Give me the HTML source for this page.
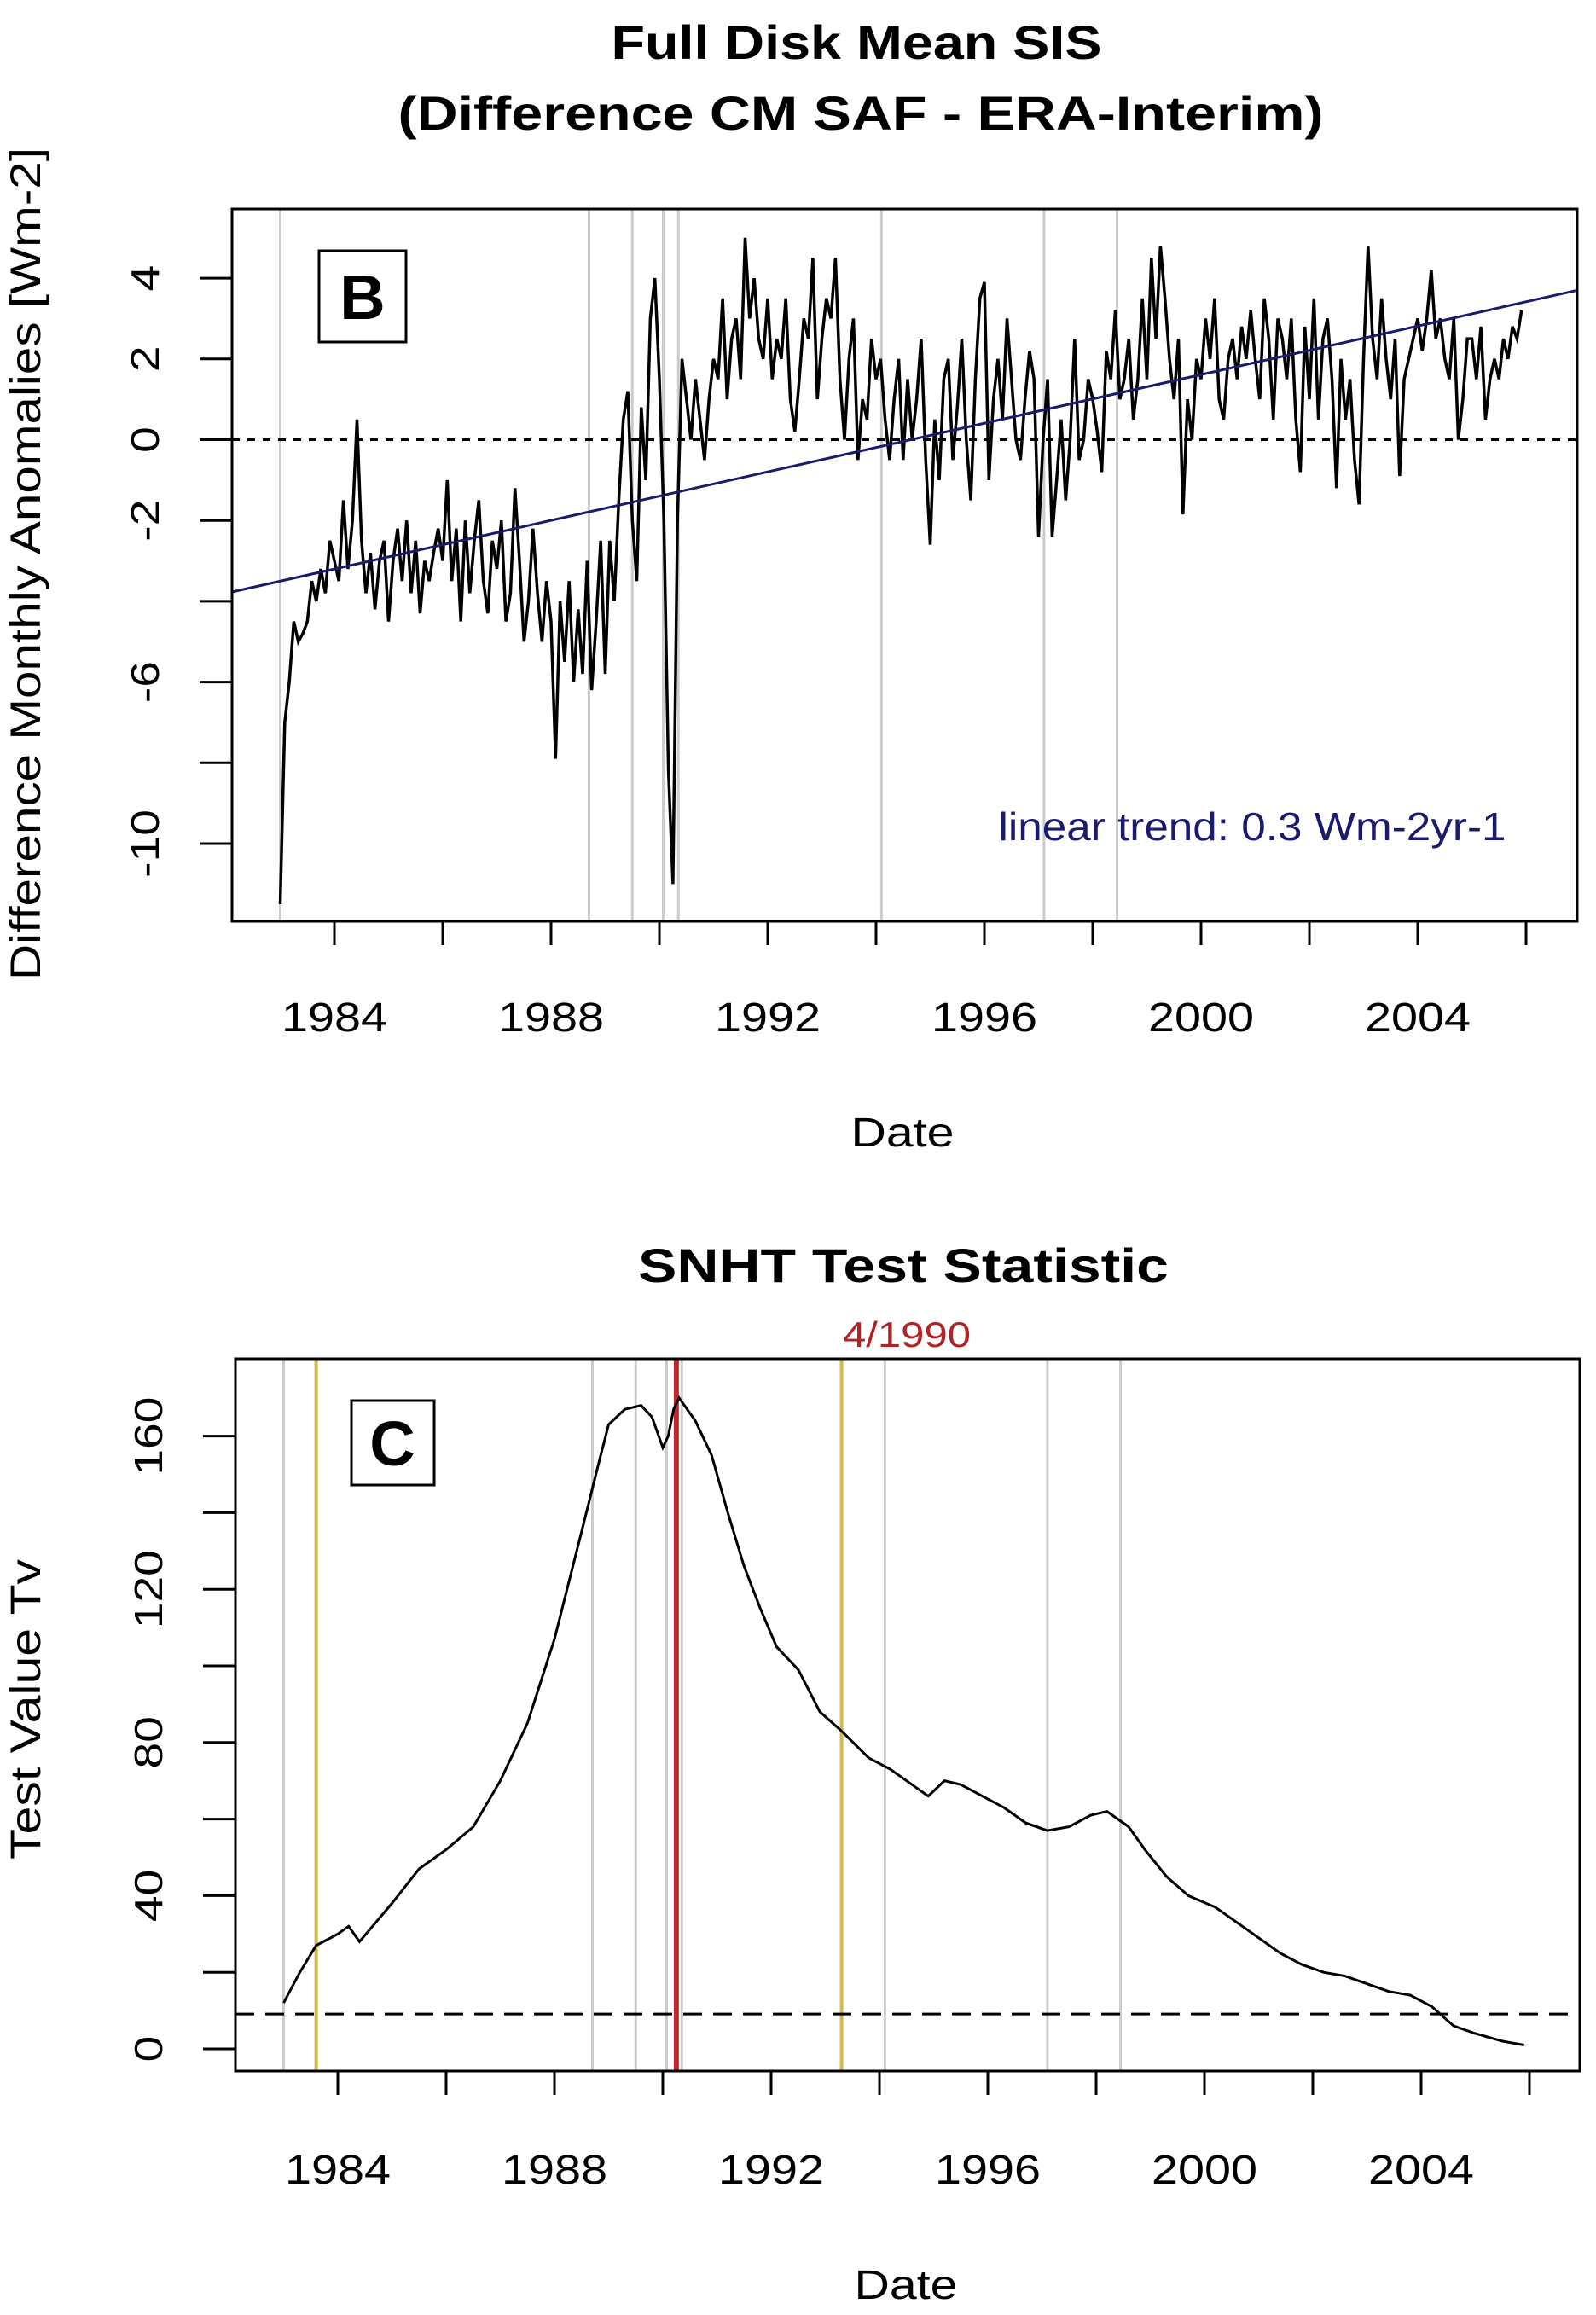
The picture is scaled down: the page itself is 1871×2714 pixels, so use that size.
<!DOCTYPE html>
<html><head><meta charset="utf-8">
<style>
html,body{margin:0;padding:0;background:#fff;}
svg{display:block;font-family:"Liberation Sans",Arial,sans-serif;}
</style></head>
<body>
<svg id="chart" width="1871" height="2714" viewBox="0 0 1871 2714" xmlns="http://www.w3.org/2000/svg">
<rect width="1871" height="2714" fill="#fff"/>
<text x="1004" y="69" font-size="56" font-weight="bold" text-anchor="middle" textLength="575" lengthAdjust="spacingAndGlyphs">Full Disk Mean SIS</text>
<text x="1009" y="152" font-size="56" font-weight="bold" text-anchor="middle" textLength="1085" lengthAdjust="spacingAndGlyphs">(Difference CM SAF - ERA-Interim)</text>
<text x="1058" y="1344" font-size="48" text-anchor="middle" textLength="121" lengthAdjust="spacingAndGlyphs">Date</text>
<text transform="translate(47,661) rotate(-90)" font-size="50" text-anchor="middle" textLength="976" lengthAdjust="spacingAndGlyphs">Difference Monthly Anomalies [Wm-2]</text>
<text x="1059" y="1503" font-size="56" font-weight="bold" text-anchor="middle" textLength="622" lengthAdjust="spacingAndGlyphs">SNHT Test Statistic</text>
<text x="1063" y="1579" font-size="42" fill="#b22222" text-anchor="middle" textLength="150" lengthAdjust="spacingAndGlyphs">4/1990</text>
<text x="1062" y="2695" font-size="48" text-anchor="middle" textLength="121" lengthAdjust="spacingAndGlyphs">Date</text>
<text transform="translate(47,2004) rotate(-90)" font-size="50" text-anchor="middle" textLength="352" lengthAdjust="spacingAndGlyphs">Test Value Tv</text>
<g id="gb"></g>
<g id="gc"></g>
</svg>
<script>
// Panel B data: monthly anomalies 1983-2005
const bStartYear = 1983;
const bValues = [
-11.5,-7,-6,-4.5,-5,-4.8,-4.5,-3.5,-4,-3.2,-3.8,-2.5,
-3,-3.5,-1.5,-3.2,-2,0.5,-2.5,-3.8,-2.8,-4.2,-3,-2.5,
-4.5,-3,-2.2,-3.5,-2,-3.8,-2.5,-4.3,-3,-3.5,-2.8,-2.2,
-3,-1,-3.5,-2.2,-4.5,-2,-3.8,-2.5,-1.5,-3.5,-4.3,-2.5,
-3.2,-2,-4.5,-3.8,-1.2,-3,-5,-4,-2.2,-3.8,-5,-3.5,
-4.5,-7.9,-4,-5.5,-3.5,-6,-4.2,-5.8,-3,-6.2,-4.5,-2.5,
-5.8,-2.5,-4,-1.5,0.5,1.2,-2,-3.5,0.8,-1,3,4,
1.5,-2,-8.2,-11,-2,2,1,0,1.5,0.5,-0.5,1,
2,1.5,3.5,1,2.5,3,1.5,5,3,4,2.5,2,
3.5,1.5,2.5,2,3.5,1,0.2,1.5,3,2.5,4.5,1,
2.5,3.5,3,4.5,1.5,0,2,3,-0.5,1,0.5,2.5,
1.5,2,0.5,-0.5,1,2,-0.5,1.5,0,1,2.5,-0.5,
-2.6,0.5,-1,1.5,2,-0.5,0.8,2.5,0,-1.5,1.5,3.5,
3.9,-1,1,2,0.5,3,1.5,0,-0.5,1,2.2,1.5,
-2.4,0,1.5,-2.4,-1,0.5,-1.5,0,2.5,-0.5,0,1.5,
1,0.2,-0.8,2.2,1.5,3.2,1,1.5,2.5,0.5,1.5,3.5,
1.5,4.5,2.5,4.8,3.5,2,1,2.5,-1.85,1,0,2,
1.5,3,2,3.5,1,0.5,2,2.5,1.5,2.8,2,3.2,
2,1,3.5,2.5,0.5,3,2.5,1.5,3,0.5,-0.8,2.8,
1,3.5,0.5,2.5,3,1.5,-1.2,2,0.5,1.5,-0.5,-1.6,
2,4.8,2.5,1.5,3.5,2,1,2.5,-0.9,1.5,2,2.5,
3,2.2,3,4.2,2.5,3,2,1.5,3,0,1,2.5,
2.5,1.5,2.8,0.5,1.5,2,1.5,2.5,2,2.8,2.5,3.2
];
const bTrendStart = -3.77, bTrendEnd = 3.7;
const bYTicks = [-10,-8,-6,-4,-2,0,2,4];
const bYLabels = ["-10","","-6","","-2","0","2","4"];
const xTicks = [1984,1986,1988,1990,1992,1994,1996,1998,2000,2002,2004,2006];
const xLabels = ["1984","","1988","","1992","","1996","","2000","","2004",""];
const greyLines = [1983.0,1988.7,1989.5,1990.07,1990.35,1994.1,1997.1,1998.45];
// Panel C data
const cYears = [1983.0,1983.3,1983.6,1984.0,1984.2,1984.4,1985.0,1985.5,1986.0,1986.5,1987.0,1987.5,1988.0,1988.5,1988.8,1989.0,1989.3,1989.6,1989.8,1990.0,1990.1,1990.2,1990.3,1990.6,1990.9,1991.2,1991.5,1991.8,1992.1,1992.5,1992.9,1993.3,1993.8,1994.2,1994.6,1994.9,1995.2,1995.5,1995.9,1996.3,1996.7,1997.1,1997.5,1997.9,1998.2,1998.6,1998.9,1999.3,1999.7,2000.2,2000.6,2001.0,2001.4,2001.8,2002.2,2002.6,2003.0,2003.4,2003.8,2004.2,2004.6,2005.0,2005.5,2005.9];
const cValues = [12,20,27,30,32,28,38,47,52,58,70,85,107,135,152,163,167,168,165,157,160,167,170,164,155,140,126,115,105,99,88,83,76,73,69,66,70,69,66,63,59,57,58,61,62,58,52,45,40,37,33,29,25,22,20,19,17,15,14,11,6,4,2,1];
const cYTicks = [0,20,40,60,80,100,120,140,160];
const cYLabels = ["0","","40","","80","","120","","160"];
const cThreshold = 9.1;
const cYellow = [1983.6,1993.3];
const cRed = 1990.25;

const NS="http://www.w3.org/2000/svg";
function mk(parent,tag,attrs){const e=document.createElementNS(NS,tag);for(const k in attrs)e.setAttribute(k,attrs[k]);parent.appendChild(e);return e;}

// Panel B
(function(){
const g=document.getElementById('gb');
const L=272,R=1849,T=245,B=1080;
const x=yr=>392+(yr-1984)*63.5;
const y=v=>515.5-v*47.35;
greyLines.forEach(yr=>{const e=mk(g,'line',{x1:x(yr),x2:x(yr),y1:T,y2:B,stroke:'#cccccc','stroke-width':3});

});
const z=mk(g,'line',{x1:L,x2:R,y1:y(0),y2:y(0),stroke:'#000','stroke-width':3,'stroke-dasharray':'9 9'});


const pts=bValues.map((v,i)=>x(bStartYear+i/12).toFixed(1)+','+y(v).toFixed(1)).join(' ');
const pl=mk(g,'polyline',{points:pts,fill:'none',stroke:'#000','stroke-width':3.5,'stroke-linejoin':'miter'});


const tr=mk(g,'line',{x1:L,x2:R,y1:y(bTrendStart),y2:y(bTrendEnd),stroke:'#1a1a6e','stroke-width':3});


const fr=mk(g,'rect',{x:L,y:T,width:R-L,height:B-T,fill:'none',stroke:'#000','stroke-width':3});


bYTicks.forEach((v,i)=>{const t=mk(g,'line',{x1:L-38,x2:L,y1:y(v),y2:y(v),stroke:'#000','stroke-width':3});


if(bYLabels[i]){const tx=mk(g,'text',{transform:`translate(186,${y(v)}) rotate(-90) scale(1.2,1)`,'font-size':46,'text-anchor':'middle'});tx.textContent=bYLabels[i];

}});
xTicks.forEach((yr,i)=>{if(x(yr)>R)return;const t=mk(g,'line',{x1:x(yr),x2:x(yr),y1:B,y2:B+28,stroke:'#000','stroke-width':3});


if(xLabels[i]){const tx=mk(g,'text',{x:x(yr),y:1209,'font-size':48,'text-anchor':'middle',textLength:124,lengthAdjust:'spacingAndGlyphs'});tx.textContent=xLabels[i];

}});
const bx=mk(g,'rect',{x:374,y:294,width:102,height:107,fill:'#fff',stroke:'#000','stroke-width':3});


const bt=mk(g,'text',{x:425,y:374,'font-size':74,'font-weight':'bold','text-anchor':'middle'});bt.textContent='B';


const lt=mk(g,'text',{x:1468,y:985,'font-size':46,fill:'#1a1a6e','text-anchor':'middle',textLength:595,lengthAdjust:'spacingAndGlyphs'});lt.textContent='linear trend:  0.3  Wm-2yr-1';


})();

// Panel C
(function(){
const g=document.getElementById('gc');
const L=276,R=1852,T=1593,B=2428;
const x=yr=>396+(yr-1984)*63.5;
const y=v=>2402-v*4.49;
greyLines.forEach(yr=>{const e=mk(g,'line',{x1:x(yr),x2:x(yr),y1:T,y2:B,stroke:'#cccccc','stroke-width':3});

});
cYellow.forEach(yr=>{const e=mk(g,'line',{x1:x(yr),x2:x(yr),y1:T,y2:B,stroke:'#d4b84a','stroke-width':4});

});
const rd=mk(g,'line',{x1:x(cRed),x2:x(cRed),y1:T,y2:B,stroke:'#c0282d','stroke-width':6});


const th=mk(g,'line',{x1:L,x2:R,y1:y(cThreshold),y2:y(cThreshold),stroke:'#000','stroke-width':3,'stroke-dasharray':'22 13'});


const pts=cValues.map((v,i)=>x(cYears[i]).toFixed(1)+','+y(v).toFixed(1)).join(' ');
const pl=mk(g,'polyline',{points:pts,fill:'none',stroke:'#000','stroke-width':3});


const fr=mk(g,'rect',{x:L,y:T,width:R-L,height:B-T,fill:'none',stroke:'#000','stroke-width':3});


cYTicks.forEach((v,i)=>{const t=mk(g,'line',{x1:L-38,x2:L,y1:y(v),y2:y(v),stroke:'#000','stroke-width':3});


if(cYLabels[i]){const tx=mk(g,'text',{transform:`translate(190,${y(v)}) rotate(-90) scale(1.2,1)`,'font-size':46,'text-anchor':'middle'});tx.textContent=cYLabels[i];

}});
xTicks.forEach((yr,i)=>{if(x(yr)>R)return;const t=mk(g,'line',{x1:x(yr),x2:x(yr),y1:B,y2:B+28,stroke:'#000','stroke-width':3});


if(xLabels[i]){const tx=mk(g,'text',{x:x(yr),y:2560,'font-size':48,'text-anchor':'middle',textLength:124,lengthAdjust:'spacingAndGlyphs'});tx.textContent=xLabels[i];

}});
const bx=mk(g,'rect',{x:412,y:1642,width:97,height:99,fill:'#fff',stroke:'#000','stroke-width':3});


const bt=mk(g,'text',{x:460,y:1718,'font-size':74,'font-weight':'bold','text-anchor':'middle'});bt.textContent='C';


})();
</script>
</body></html>
